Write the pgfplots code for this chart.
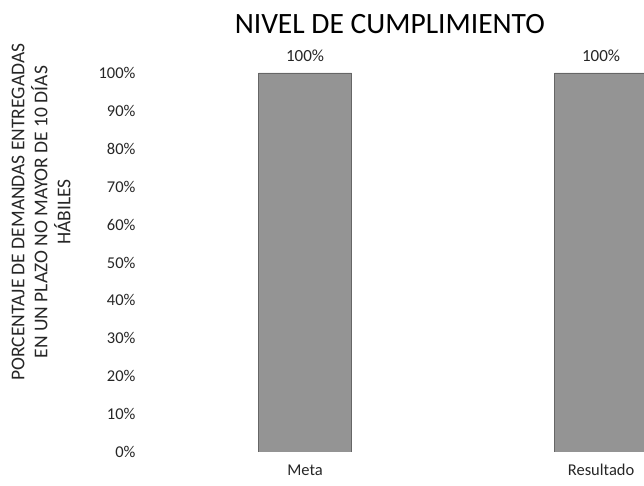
\documentclass[border=0pt]{standalone}
\usepackage{pgfplots}
\pgfplotsset{compat=1.18}
\usepackage{fontspec}
\setmainfont{Carlito}
\definecolor{bargray}{gray}{0.58}
\begin{document}
\begin{tikzpicture}[x=1pt,y=1pt]
\path[use as bounding box] (0,0) rectangle (644,486);
\begin{axis}[
  at={(157pt,34pt)}, anchor=south west,
  scale only axis, width=487pt, height=379pt,
  xmin=-0.5, xmax=1.145, ymin=0, ymax=1,
  axis line style={draw=none}, tick style={draw=none},
  ytick={0,0.1,...,1.01},
  yticklabels={0\%,10\%,20\%,30\%,40\%,50\%,60\%,70\%,80\%,90\%,100\%},
  yticklabel style={font=\fontsize{16.5}{18}\selectfont, color=black!85, xshift=-18pt},
  xtick={0,1}, xticklabels={Meta,Resultado},
  xticklabel style={font=\fontsize{16.5}{18}\selectfont, color=black!85, yshift=-9pt},
  /pgf/number format/assume math mode=true,
  clip mode=individual,
  ylabel={PORCENTAJE DE DEMANDAS ENTREGADAS\\EN UN PLAZO NO MAYOR DE 10 DÍAS\\HÁBILES},
  ylabel style={align=center, font=\fontsize{19.5}{23}\selectfont, color=black!85,
    at={(axis description cs:-0.238,0.633)}, anchor=center},
  title={NIVEL DE CUMPLIMIENTO},
  title style={font=\fontsize{29.5}{32}\selectfont, at={(0.478,1)}, anchor=south, yshift=30pt},
]
\addplot[ybar, bar width=93pt, fill=bargray, draw=black!60,
  point meta=y*100,
  nodes near coords={\pgfmathprintnumber{\pgfplotspointmeta}\%},
  nodes near coords style={font=\fontsize{17}{19}\selectfont, color=black!85, yshift=8pt}]
  coordinates {(0,1) (1,1)};
\end{axis}
\end{tikzpicture}
\end{document}
